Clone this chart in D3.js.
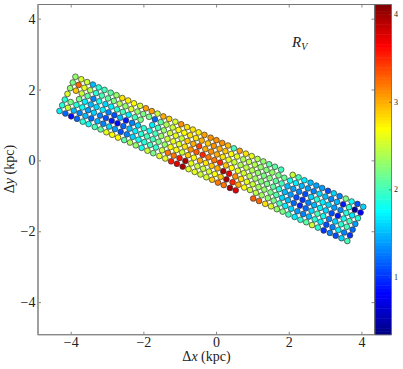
<!DOCTYPE html>
<html><head><meta charset="utf-8">
<style>html,body{margin:0;padding:0;background:#fff}svg{display:block}text{font-family:"Liberation Serif","DejaVu Serif",serif;fill:#222}</style>
<script src="https://cdnjs.cloudflare.com/ajax/libs/d3/7.8.5/d3.min.js"></script></head><body>
<script>
const xTicks=[-4,-2,0,2,4], yTicks=[-4,-2,0,2,4], cTicks=[1,2,3,4];
const colX=[-3.87,-3.71,-3.55,-3.39,-3.23,-3.07,-2.90,-2.74,-2.58,-2.42,-2.26,-2.09,-1.93,-1.77,-1.61,-1.45,-1.29,-1.12,-0.96,-0.80,-0.64,-0.48,-0.32,-0.15,0.01,0.17,0.33,0.49,0.65,0.82,0.98,1.14,1.30,1.46,1.62,1.79,1.95,2.11,2.27,2.43,2.60,2.76,2.92,3.08,3.24,3.40,3.57,3.73,3.89,4.05];
const colY=[2.36,2.29,2.21,2.14,2.06,1.99,1.91,1.84,1.76,1.69,1.61,1.54,1.47,1.39,1.32,1.24,1.17,1.09,1.02,0.94,0.87,0.79,0.72,0.64,0.57,0.49,0.42,0.34,0.27,0.19,0.12,0.04,-0.03,-0.11,-0.18,-0.26,-0.33,-0.41,-0.48,-0.56,-0.63,-0.71,-0.78,-0.86,-0.93,-1.01,-1.08,-1.16,-1.23,-1.31];
const rowDx=[0,-0.073,-0.146,-0.219,-0.292,-0.365,-0.438];
const rowDy=[0,-0.161,-0.322,-0.483,-0.644,-0.805,-0.966];
const rv0=[2.3,2.55,2.5,1.5,1.9,2.0,2.1,2.3,2.8,2.75,2.7,2.55,3.05,3.05,2.5,3.0,2.85,2.55,3.1,2.8,2.8,2.75,3.05,3.1,3.1,3.1,2.95,2.0,3.05,2.8,2.6,2.4,2.3,2.1,2.1,2.0,null,2.5,2.0,1.7,1.5,1.4,1.4,1.1,1.6,1.3,2.2,1.8,1.1,1.6];
const rv1=[2.2,3.25,2.6,2.4,1.9,2.0,2.1,2.2,2.4,2.3,2.55,2.3,2.2,2.2,1.2,2.1,2.4,2.5,2.7,2.7,2.8,2.8,3.0,2.9,3.1,3.0,2.9,2.7,2.6,2.4,2.45,2.4,2.3,2.25,2.3,2.2,2.15,1.8,1.7,1.5,1.4,1.3,1.6,1.5,1.3,1.5,0.9,1.9,0.45,0.8];
const rv2=[2.3,2.9,2.5,2.1,1.3,1.8,1.6,1.7,1.9,2.0,1.7,2.0,2.2,null,1.7,2.0,2.3,2.5,2.6,2.5,2.9,3.0,3.4,3.0,3.1,3.0,2.8,2.6,2.5,2.4,2.45,2.4,2.3,2.2,2.25,2.1,2.0,1.5,1.4,1.3,1.1,1.6,1.9,1.7,1.6,1.4,1.3,1.9,1.7,1.9];
const rv3=[2.55,null,2.2,1.7,1.5,1.6,1.7,1.3,1.1,1.5,0.9,1.3,1.6,1.9,1.8,2.0,2.3,2.5,2.6,2.6,2.8,3.1,3.3,3.5,3.2,3.2,3.5,2.9,2.7,2.6,2.55,2.45,2.35,2.25,2.2,2.1,1.9,1.5,1.4,1.1,1.0,1.3,1.5,1.7,1.6,1.1,0.9,1.8,2.0,1.4];
const rv4=[1.9,2.2,1.9,1.8,1.4,1.6,1.3,1.1,0.9,0.85,1.2,1.5,1.7,1.9,2.0,2.0,2.2,2.3,2.7,2.7,2.5,2.9,2.7,3.0,2.8,2.9,3.0,3.95,3.7,3.1,2.8,2.6,2.5,2.35,2.3,2.2,2.05,1.6,1.5,1.2,0.95,1.2,1.6,2.0,1.8,1.3,1.6,1.9,2.0,1.2];
const rv5=[1.9,2.5,1.5,1.3,1.5,1.2,1.5,1.3,1.6,1.4,1.1,1.3,1.6,1.8,1.9,2.0,1.95,2.5,3.2,3.2,3.55,3.95,2.6,2.5,2.5,2.55,2.7,2.9,3.95,3.5,3.0,2.7,2.5,2.45,2.35,2.3,2.2,2.0,1.7,1.6,1.4,1.3,1.5,1.9,1.7,1.1,1.3,1.7,1.3,1.0];
const rv6=[1.7,1.2,0.85,1.2,1.9,1.8,2.0,2.1,2.6,2.7,2.7,2.1,2.4,2.3,1.85,2.5,2.2,2.6,2.6,3.55,3.75,3.95,2.6,2.6,2.5,2.55,2.9,3.2,3.2,3.95,3.75,null,null,3.3,3.25,2.8,2.55,2.3,2.2,2.0,1.7,1.9,2.1,2.5,1.9,1.0,1.3,1.1,1.6,2.0];
const rvRows=[rv0,rv1,rv2,rv3,rv4,rv5,rv6];
const jetStops=["#000080","#0000ff","#007fff","#00ffff","#7fff7f","#ffff00","#ff7f00","#ff0000","#800000"];

const W=403,H=369;
const x=d3.scaleLinear([-4.9,4.36],[38,374.5]);
const y=d3.scaleLinear([-4.92,4.4],[334.7,4.5]);
const cMin=0.34,cMax=4.11;
const cy=d3.scaleLinear([cMin,cMax],[334.7,4.5]);
const jet=d3.scaleLinear().domain(jetStops.map((_,i)=>cMin+(cMax-cMin)*i/8)).range(jetStops);
const svg=d3.select("body").append("svg").attr("width",W).attr("height",H);

const pts=[];
rvRows.forEach((row,r)=>row.forEach((v,c)=>{if(v!==null)pts.push({x:colX[c]+rowDx[r],y:colY[c]+rowDy[r],v});}));
svg.append("g").selectAll("circle").data(pts).join("circle")
  .attr("cx",d=>x(d.x)).attr("cy",d=>y(d.y)).attr("r",2.85)
  .attr("fill",d=>jet(d.v)).attr("stroke","#333").attr("stroke-width",0.7);

function styleAxis(g){g.select(".domain").remove();g.selectAll("line").attr("stroke","#555").attr("stroke-width",0.7);}
const fmt=d=>d<0?"\u2212"+(-d):d;
const axB=svg.append("g").attr("transform","translate(0,334.7)").call(d3.axisBottom(x).tickValues(xTicks).tickSizeInner(-3).tickSizeOuter(0).tickFormat(fmt));
axB.call(styleAxis);axB.selectAll("text").attr("font-size",14).attr("y",2.5);
const axT=svg.append("g").attr("transform","translate(0,4.5)").call(d3.axisTop(x).tickValues(xTicks).tickSizeInner(-3).tickSizeOuter(0).tickFormat(""));
axT.call(styleAxis);
const axL=svg.append("g").attr("transform","translate(38,0)").call(d3.axisLeft(y).tickValues(yTicks).tickSizeInner(-3).tickSizeOuter(0).tickFormat(fmt));
axL.call(styleAxis);axL.selectAll("text").attr("font-size",14).attr("x",-2.5);
const axR=svg.append("g").attr("transform","translate(374.5,0)").call(d3.axisRight(y).tickValues(yTicks).tickSizeInner(-3).tickSizeOuter(0).tickFormat(""));
axR.call(styleAxis);

svg.append("rect").attr("x",38).attr("y",4.5).attr("width",336.5).attr("height",330.2).attr("fill","none").attr("stroke","#777").attr("stroke-width",1);
svg.append("line").attr("x1",38).attr("x2",38).attr("y1",4.5).attr("y2",334.7).attr("stroke","#999").attr("stroke-width",1.6);
svg.append("line").attr("x1",38).attr("x2",374.5).attr("y1",334.7).attr("y2",334.7).attr("stroke","#888").attr("stroke-width",1.3);

// colorbar
const nSeg=100;
const segs=d3.range(nSeg);
svg.append("g").selectAll("rect").data(segs).join("rect")
  .attr("x",375).attr("width",16.5)
  .attr("y",i=>cy(cMin+(cMax-cMin)*(i+1)/nSeg)).attr("height",(334.7-4.5)/nSeg+0.5)
  .attr("fill",i=>jet(cMin+(cMax-cMin)*(i+0.5)/nSeg));
svg.append("rect").attr("x",375).attr("y",4.5).attr("width",16.5).attr("height",330.2).attr("fill","none").attr("stroke","#666").attr("stroke-width",0.8);
const axC=svg.append("g").attr("transform","translate(391.5,0)").call(d3.axisRight(cy).tickValues(cTicks).tickSizeInner(-2.5).tickSizeOuter(0).tickFormat(d3.format("d")));
axC.call(styleAxis);axC.selectAll("text").attr("font-size",8).attr("x",2.5);

const t=svg.append("text").attr("x",292).attr("y",47).attr("font-size",15).attr("font-style","italic").text("R");
t.append("tspan").attr("font-size",10).attr("dy",3).text("V");
const xl=svg.append("text").attr("x",206.5).attr("y",361).attr("text-anchor","middle").attr("font-size",14);
xl.append("tspan").text("\u0394");xl.append("tspan").attr("font-style","italic").text("x");xl.append("tspan").text(" (kpc)");
const yl=svg.append("text").attr("transform","translate(14,169) rotate(-90)").attr("text-anchor","middle").attr("font-size",14);
yl.append("tspan").text("\u0394");yl.append("tspan").attr("font-style","italic").text("y");yl.append("tspan").text(" (kpc)");
</script></body></html>
